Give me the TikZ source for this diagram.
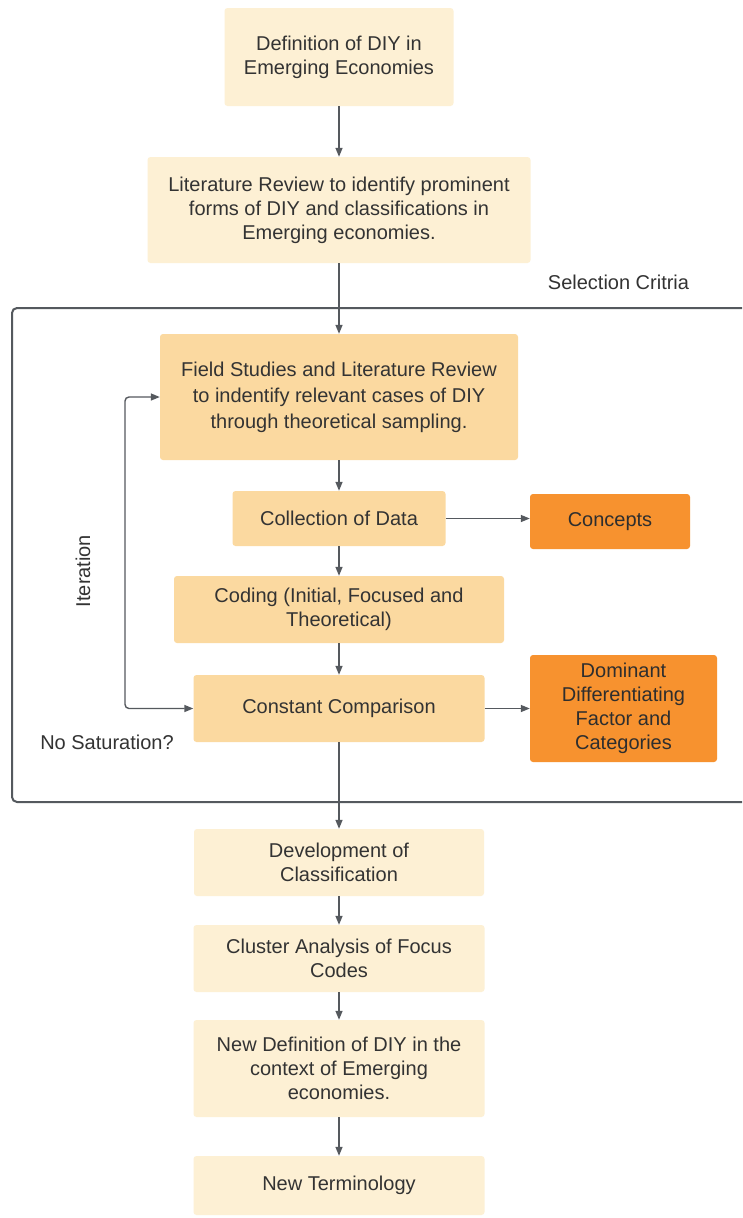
\documentclass[tikz,border=0pt]{standalone}
\usepackage{fontspec}
\setmainfont{Liberation Sans}
\usetikzlibrary{arrows.meta}
\definecolor{cream}{HTML}{FDF0D4}
\definecolor{lightorange}{HTML}{FBD9A0}
\definecolor{deeporange}{HTML}{F7922F}
\definecolor{ink}{HTML}{333333}
\definecolor{linegray}{HTML}{55595E}
\tikzset{
  x=1pt, y=-1pt,
  box/.style={rectangle, rounded corners=3pt, align=center, inner sep=0pt,
    text=ink, font=\fontsize{20}{24}\selectfont},
  creambox/.style={box, fill=cream},
  midbox/.style={box, fill=lightorange},
  hotbox/.style={box, fill=deeporange, text=ink!90!black},
  flow/.style={draw=linegray, line width=1.4pt, -{Triangle[length=9pt,width=7pt]}},
  plain/.style={text=ink, font=\fontsize{20}{24}\selectfont},
  frame/.style={draw=linegray, line width=2pt, rounded corners=5pt}
}
\begin{document}
\begin{tikzpicture}
\useasboundingbox (0,0) rectangle (742,1218);
\clip (0,0) rectangle (742,1218);
\fill[white] (0,0) rectangle (742,1218);

% outer grouping frame, running off the right edge
\draw[frame] (760,308) -- (12,308) -- (12,802) -- (760,802);
\node[plain] (sel) at (618.5,282) {Selection Critria};

% main column
\node[creambox, minimum width=229pt, minimum height=98pt] (def) at (339,57)
  {Definition of DIY in\\Emerging Economies};
\node[creambox, minimum width=383pt, minimum height=106pt] (lit) at (339,210)
  {Literature Review to identify prominent\\forms of DIY and classifications in\\Emerging economies.};
\node[midbox, minimum width=358pt, minimum height=126pt, font=\fontsize{20}{26}\selectfont] (field) at (339,397)
  {Field Studies and Literature Review\\to indentify relevant cases of DIY\\through theoretical sampling.};
\node[midbox, minimum width=213pt, minimum height=55pt] (coll) at (339,518.5)
  {Collection of Data};
\node[hotbox, minimum width=160pt, minimum height=55pt] (concepts) at (610,521.5)
  {Concepts};
\node[midbox, minimum width=330pt, minimum height=67pt] (coding) at (339,609.5)
  {Coding (Initial, Focused and\\Theoretical)};
\node[midbox, minimum width=291pt, minimum height=67pt] (cc) at (339,708.5)
  {Constant Comparison};
\node[hotbox, minimum width=187pt, minimum height=107pt] (dom) at (623.5,708.5)
  {Dominant\\Differentiating\\Factor and\\Categories};
\node[creambox, minimum width=290pt, minimum height=67pt] (dev) at (339,862.5)
  {Development of\\Classification};
\node[creambox, minimum width=291pt, minimum height=67pt] (cluster) at (339,958.5)
  {Cluster Analysis of Focus\\Codes};
\node[creambox, minimum width=291pt, minimum height=97pt] (newdef) at (339,1068.5)
  {New Definition of DIY in the\\context of Emerging\\economies.};
\node[creambox, minimum width=291pt, minimum height=59pt] (newterm) at (339,1185.5)
  {New Terminology};

% side labels
\node[plain, rotate=90] (iter) at (83,571) {Iteration};
\node[plain] (nosat) at (107,742) {No Saturation?};

% connectors
\draw[flow] (def) -- (lit);
\draw[flow] (lit) -- (field);
\draw[flow] (field) -- (coll);
\draw[flow] (coll) -- (coding);
\draw[flow] (coding) -- (cc);
\draw[flow] (cc) -- (dev);
\draw[flow] (dev) -- (cluster);
\draw[flow] (cluster) -- (newdef);
\draw[flow] (newdef) -- (newterm);
\draw[flow] (coll.east) -- (coll.east -| concepts.west);
\draw[flow] (cc.east) -- (cc.east -| dom.west);
% iteration loop
\coordinate (loopx) at (125,0);
\draw[flow, {Triangle[length=9pt,width=7pt]}-{Triangle[length=9pt,width=7pt]}, rounded corners=4pt]
  (field.west) -- (field.west -| loopx) -- (cc.west -| loopx) -- (cc.west);
\end{tikzpicture}
\end{document}
